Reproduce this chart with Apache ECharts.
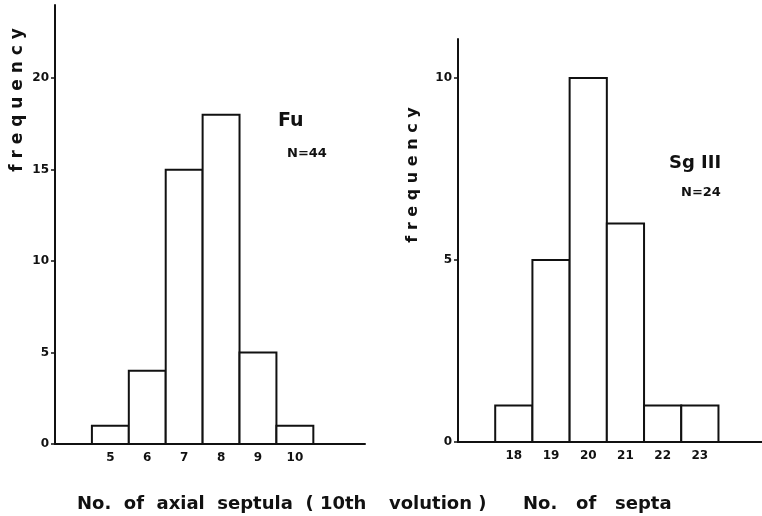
<!DOCTYPE html>
<html>
<head>
<meta charset="utf-8">
<script src="https://cdn.jsdelivr.net/npm/echarts@6/dist/echarts.min.js"></script>
<style>
  html, body { margin: 0; padding: 0; background: #fff; }
  #chart { width: 762px; height: 516px; }
</style>
</head>
<body>
<div id="chart"></div>
<script>
// Fu sample: number of axial septula in the 10th volution
const fuBins = [5, 6, 7, 8, 9, 10];
const fuCounts = [1, 4, 15, 18, 5, 1];
const fuYTicks = [0, 5, 10, 15, 20];

// Sg III sample: number of septa
const sgBins = [18, 19, 20, 21, 22, 23];
const sgCounts = [1, 5, 10, 6, 1, 1];
const sgYTicks = [0, 5, 10];

const FONT = 'DejaVu Sans';
const INK = '#111';

// histogram bar: one unit wide, centred on the bin value
function histBar(params, api) {
  const x = api.value(0), y = api.value(1);
  const topLeft = api.coord([x - 0.5, y]);
  const bottomRight = api.coord([x + 0.5, 0]);
  return {
    type: 'rect',
    shape: {
      x: topLeft[0], y: topLeft[1],
      width: bottomRight[0] - topLeft[0],
      height: bottomRight[1] - topLeft[1]
    },
    style: { fill: '#fff', stroke: INK, lineWidth: 2 }
  };
}

function xAxisFor(gridIndex, min, max, ticks) {
  return {
    type: 'value', gridIndex, min, max,
    axisLine: { show: true, onZero: false, lineStyle: { color: INK, width: 2 } },
    axisTick: { show: false },
    splitLine: { show: false },
    axisLabel: {
      customValues: ticks, margin: 8,
      color: INK, fontFamily: FONT, fontWeight: 'bold', fontSize: 12
    }
  };
}

function yAxisFor(gridIndex, max, ticks) {
  return {
    type: 'value', gridIndex, min: 0, max,
    axisLine: { show: true, lineStyle: { color: INK, width: 2 } },
    axisTick: { show: true, customValues: ticks, length: 4, lineStyle: { color: INK, width: 1.5 } },
    splitLine: { show: false },
    axisLabel: {
      customValues: ticks, margin: 6,
      color: INK, fontFamily: FONT, fontWeight: 'bold', fontSize: 12
    }
  };
}

function label(text, x, y, size, extra) {
  return Object.assign({
    type: 'text', x, y,
    style: {
      text, fill: INK, font: 'bold ' + size + 'px "' + FONT + '"',
      align: 'left', verticalAlign: 'middle'
    }
  }, extra || {});
}

function verticalLabel(text, x, y, size) {
  return {
    type: 'text', x, y, rotation: Math.PI / 2,
    style: {
      text, fill: INK, font: 'bold ' + size + 'px "' + FONT + '"',
      align: 'center', verticalAlign: 'middle'
    }
  };
}

const chart = echarts.init(document.getElementById('chart'), null, { renderer: 'canvas' });

chart.setOption({
  animation: false,
  backgroundColor: '#fff',
  grid: [
    { left: 55, top: 5, width: 310, height: 439 },
    { left: 458, top: 39, width: 304, height: 403 }
  ],
  xAxis: [
    xAxisFor(0, 3.5, 11.9, fuBins),
    xAxisFor(1, 16.5, 24.67, sgBins)
  ],
  yAxis: [
    yAxisFor(0, 24, fuYTicks),
    yAxisFor(1, 11.07, sgYTicks)
  ],
  series: [
    {
      type: 'custom', xAxisIndex: 0, yAxisIndex: 0,
      renderItem: histBar,
      data: fuBins.map((b, i) => [b, fuCounts[i]])
    },
    {
      type: 'custom', xAxisIndex: 1, yAxisIndex: 1,
      renderItem: histBar,
      data: sgBins.map((b, i) => [b, sgCounts[i]])
    }
  ],
  graphic: [
    verticalLabel('f r e q u e n c y', 18, 100, 17),
    verticalLabel('f r e q u e n c y', 413, 175, 16),
    label('Fu', 278, 121, 19),
    label('N=44', 287, 154, 13),
    label('Sg III', 669, 163, 18),
    label('N=24', 681, 193, 13),
    label('No.  of  axial  septula  ( 10th', 77, 504, 18),
    label('volution )', 389, 504, 18),
    label('No.   of   septa', 523, 504, 18)
  ]
});
</script>
</body>
</html>
